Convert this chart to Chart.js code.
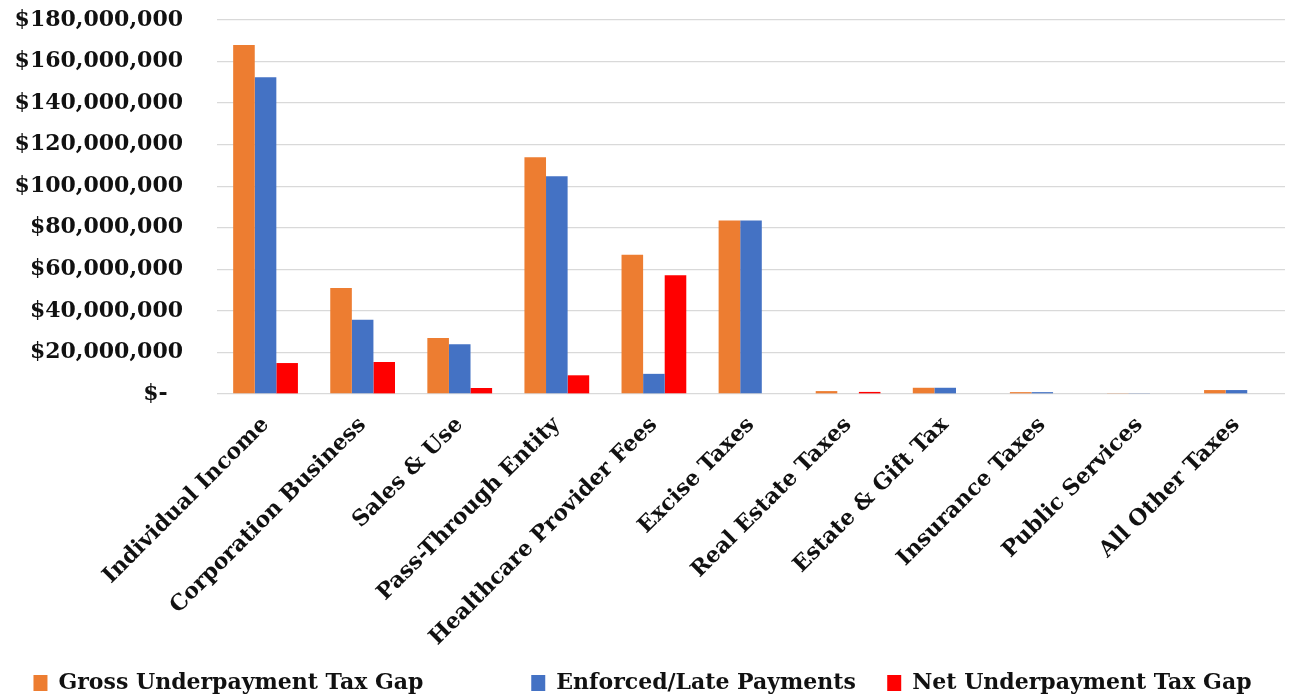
<!DOCTYPE html>
<html>
<head>
<meta charset="utf-8">
<script src="https://cdn.jsdelivr.net/npm/chart.js@4"></script>
<style>
  html, body { margin: 0; padding: 0; background: #ffffff; }
  #wrap { width: 1293px; height: 698px; position: relative; }
</style>
</head>
<body>
<div id="wrap"><canvas id="c" width="1293" height="698"></canvas></div>
<script>
const categories = [
  "Individual Income", "Corporation Business", "Sales & Use", "Pass-Through Entity",
  "Healthcare Provider Fees", "Excise Taxes", "Real Estate Taxes", "Estate & Gift Tax",
  "Insurance Taxes", "Public Services", "All Other Taxes"
];
const grossGap = [168000000, 51000000, 27000000, 114000000, 67000000, 83500000, 1400000, 3000000, 900000, 400000, 1900000];
const enforcedLate = [152500000, 35700000, 24000000, 104800000, 9700000, 83500000, 0, 3000000, 900000, 400000, 1900000];
const netGap = [14900000, 15400000, 2900000, 9000000, 57200000, 0, 1000000, 0, 0, 0, 0];
const seriesNames = ["Gross Underpayment Tax Gap", "Enforced/Late Payments", "Net Underpayment Tax Gap"];
const yTicks = [0, 20000000, 40000000, 60000000, 80000000, 100000000, 120000000, 140000000, 160000000, 180000000];

const FONT = "'DejaVu Serif', 'Liberation Serif', serif";
// extra trailing gap (in spaces) after each legend entry, to mimic the original spacing
const legendGap = [12, 2, 0];

function fmtMoney(v) {
  if (v === 0) return "$-  ";
  return "$" + v.toLocaleString("en-US");
}

new Chart(document.getElementById("c"), {
  type: "bar",
  data: {
    labels: categories,
    datasets: [
      { label: seriesNames[0], data: grossGap, backgroundColor: "#ED7D31" },
      { label: seriesNames[1], data: enforcedLate, backgroundColor: "#4472C4" },
      { label: seriesNames[2], data: netGap, backgroundColor: "#FF0000" }
    ]
  },
  options: {
    responsive: false,
    devicePixelRatio: 1,
    animation: false,
    layout: { padding: { top: 20, right: 8, left: 0, bottom: -6 } },
    datasets: { bar: { categoryPercentage: 0.667, barPercentage: 1.0 } },
    plugins: {
      legend: {
        position: "bottom",
        labels: {
          color: "#111",
          font: { family: FONT, size: 22, weight: "bold" },
          boxWidth: 14, boxHeight: 16, padding: 16,
          generateLabels: (chart) => {
            const items = Chart.defaults.plugins.legend.labels.generateLabels(chart);
            items.forEach((it, i) => { it.text = it.text + " ".repeat(legendGap[i] || 0); it.lineWidth = 0; });
            return items;
          }
        }
      },
      tooltip: { enabled: false }
    },
    scales: {
      x: {
        grid: { display: false },
        border: { display: false },
        ticks: {
          color: "#111",
          font: { family: FONT, size: 22, weight: "bold" },
          minRotation: 45, maxRotation: 45, padding: 10, autoSkip: false
        },
        afterFit: (s) => { s.height = 262; }
      },
      y: {
        min: 0, max: 180000000,
        afterBuildTicks: (s) => { s.ticks = yTicks.map(v => ({ value: v })); },
        grid: { color: "#D9D9D9", lineWidth: 1.3, drawTicks: true, tickLength: 32, tickColor: "rgba(0,0,0,0)" },
        border: { display: false },
        ticks: {
          color: "#111",
          font: { family: FONT, size: 22, weight: "bold" },
          padding: 2,
          callback: (v) => fmtMoney(v)
        },
        afterFit: (s) => { s.width = 217; }
      }
    }
  }
});
</script>
</body>
</html>
